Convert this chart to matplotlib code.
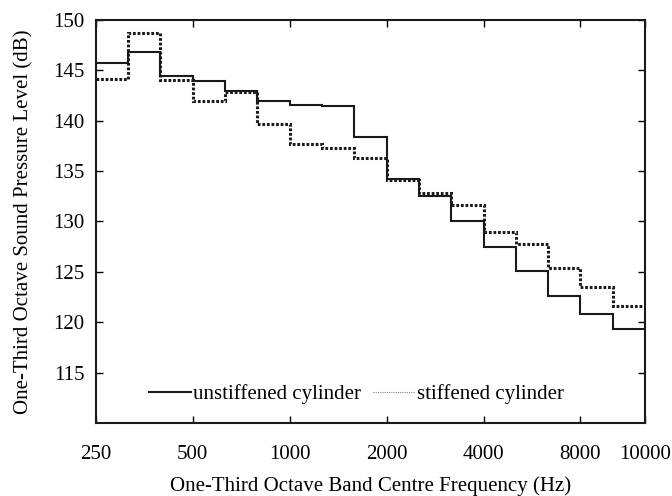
import numpy as np
import matplotlib
matplotlib.use('Agg')
import matplotlib.pyplot as plt
from matplotlib.lines import Line2D

# One-third octave band levels (dB), 17 bands from 250 Hz upward
unstiffened = [145.7, 146.8, 144.4, 143.9, 143.0, 142.0, 141.6, 141.5, 138.4,
               134.2, 132.5, 130.0, 127.5, 125.1, 122.6, 120.8, 119.3]
stiffened = [144.1, 148.7, 144.0, 142.0, 142.9, 139.7, 137.7, 137.3, 136.3,
             134.1, 132.8, 131.6, 129.0, 127.8, 125.4, 123.5, 121.6]
tick_pos = [0, 3, 6, 9, 12, 15, 17]
tick_labels = ['250', '500', '1000', '2000', '4000', '8000', '10000']
y_ticks = [115, 120, 125, 130, 135, 140, 145, 150]

plt.rcParams['font.family'] = ['Liberation Serif', 'DejaVu Serif']
plt.rcParams['font.size'] = 15

fig = plt.figure(figsize=(6.72, 4.96), dpi=100)
ax = fig.add_axes([0.1424, 0.1472, 0.8176, 0.8125])

edges = np.arange(len(unstiffened) + 1)
ax.stairs(unstiffened, edges, color='#1a1a1a', linewidth=1.5, baseline=None)
ax.stairs(stiffened, edges, color='#1a1a1a', linewidth=2.2,
          linestyle=(0, (0.9, 0.6)), baseline=None)

ax.set_xlim(0, 17)
ax.set_ylim(110, 150)
ax.set_xticks(tick_pos)
ax.set_xticklabels(tick_labels)
ax.set_yticks(y_ticks)
ax.tick_params(direction='in', top=True, right=True, length=5, width=1)
ax.tick_params(axis='x', pad=16)
ax.tick_params(axis='y', pad=8)
for s in ax.spines.values():
    s.set_linewidth(1.5)
    s.set_color('#1a1a1a')

ax.set_xlabel('One-Third Octave Band Centre Frequency (Hz)', labelpad=9)
ax.set_ylabel('One-Third Octave Sound Pressure Level (dB)', labelpad=14)

handles = [Line2D([], [], color='#1a1a1a', linewidth=1.5),
           Line2D([], [], color='#888888', linewidth=0.8, linestyle=(0, (1, 1)))]
ax.legend(handles, ['unstiffened cylinder', 'stiffened cylinder'], ncol=2,
          loc='center', bbox_to_anchor=(0.475, 0.072), frameon=False,
          handlelength=2.0, handletextpad=0.1, columnspacing=0.6)

fig.savefig('out.png', dpi=100)
